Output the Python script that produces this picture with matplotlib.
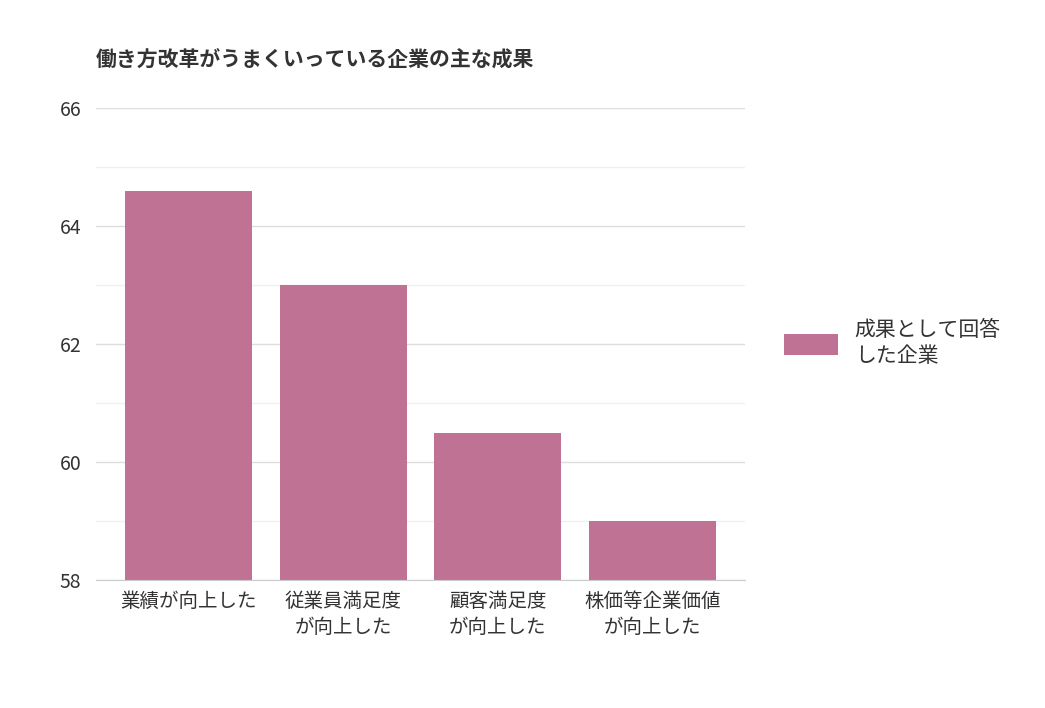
import matplotlib.pyplot as plt

plt.rcParams["font.family"] = "Noto Sans CJK JP"

categories = ["業績が向上した", "従業員満足度\nが向上した", "顧客満足度\nが向上した", "株価等企業価値\nが向上した"]
values = [64.6, 63.0, 60.5, 59.0]
series_name = "成果として回答\nした企業"
title = "働き方改革がうまくいっている企業の主な成果"

fig = plt.figure(figsize=(10.45, 7.08), dpi=100)
ax = fig.add_axes([96 / 1045, 1 - 580 / 708, (745 - 96) / 1045, (580 - 108) / 708])

ax.bar(range(len(values)), values, width=0.82, color="#bf7294", label=series_name, zorder=2)
ax.set_ylim(58, 66)
ax.set_xlim(-0.6, 3.6)
ax.set_yticks([58, 60, 62, 64, 66])
ax.set_yticks([59, 61, 63, 65], minor=True)
ax.grid(axis="y", which="major", color="#dddddd", lw=1, zorder=0)
ax.grid(axis="y", which="minor", color="#f0f0f0", lw=1, zorder=0)
ax.tick_params(axis="y", which="both", length=0, labelsize=14, labelcolor="#333333", pad=26)
ax.tick_params(axis="x", length=0, labelsize=14, labelcolor="#333333", pad=8)
ax.set_xticks(range(len(categories)))
ax.set_xticklabels(categories, linespacing=1.3)
for lbl in ax.get_yticklabels():
    lbl.set_horizontalalignment("left")
for s in ["top", "right", "left"]:
    ax.spines[s].set_visible(False)
ax.spines["bottom"].set_color("#cccccc")

fig.text(96 / 1045, 1 - 60 / 708, title, fontsize=15, fontweight="bold", color="#333333", va="center")
fig.legend(loc="center left", bbox_to_anchor=(765 / 1045, 1 - 343 / 708), frameon=False,
           fontsize=15, handlelength=2.6, handleheight=1.2, labelcolor="#333333")

fig.savefig("out.png", dpi=100)
